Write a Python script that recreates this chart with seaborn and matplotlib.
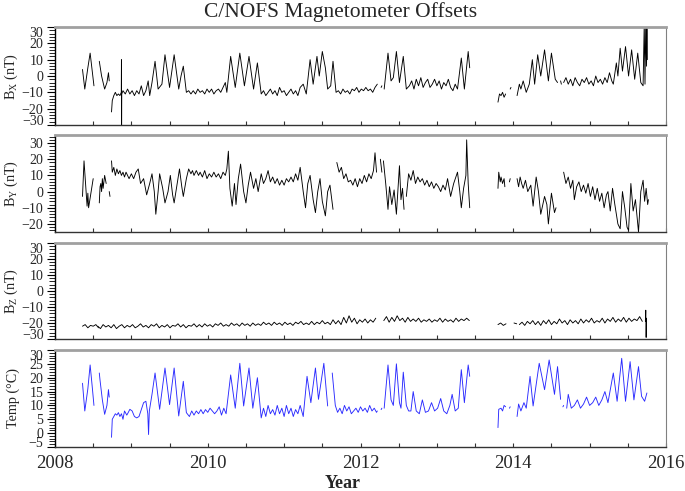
import numpy as np
import pandas as pd
import matplotlib
matplotlib.use("Agg")
import matplotlib.pyplot as plt
import seaborn as sns
from matplotlib.ticker import MultipleLocator, FuncFormatter

# ---------------- data (decimal year, value); None marks a data gap ----------------
bx_time = [2008.36, 2008.39, 2008.43, 2008.46, 2008.49, 2008.51, None,
           2008.58, 2008.61, 2008.65, 2008.68, 2008.70, 2008.71, None,
           2008.74, 2008.75, 2008.77, 2008.79, 2008.81, 2008.83, 2008.85, 2008.868, 2008.870, 2008.872, 2008.874,
           2008.89, 2008.92, 2008.95, 2008.98, 2009.01, 2009.04, 2009.07, 2009.10, 2009.13, 2009.16, 2009.19,
           2009.22, 2009.24, 2009.27, 2009.31, 2009.35, 2009.40, 2009.44, 2009.50, 2009.56, 2009.62, 2009.65,
           2009.68, 2009.72, 2009.75, 2009.78, 2009.81, 2009.84, 2009.87, 2009.90, 2009.93, 2009.96, 2009.99,
           2010.02, 2010.05, 2010.08, 2010.11, 2010.14, 2010.17, 2010.20, 2010.23, 2010.25, 2010.30, 2010.36,
           2010.42, 2010.48, 2010.54, 2010.60, 2010.65, 2010.70, 2010.73, 2010.76, 2010.79, 2010.82, 2010.85,
           2010.88, 2010.91, 2010.94, 2010.97, 2011.00, 2011.03, 2011.06, 2011.09, 2011.12, 2011.15, 2011.18,
           2011.21, 2011.25, 2011.29, 2011.34, 2011.38, 2011.43, 2011.46, 2011.50, 2011.54, 2011.57, 2011.61,
           2011.64, 2011.68, 2011.71, 2011.74, 2011.77, 2011.80, 2011.83, 2011.86, 2011.89, 2011.92, 2011.95,
           2011.98, 2012.01, 2012.04, 2012.07, 2012.10, 2012.13, 2012.16, 2012.19, 2012.22, None,
           2012.27, 2012.28, None,
           2012.31, 2012.36, 2012.40, 2012.43, 2012.47, 2012.51, 2012.56, 2012.60, 2012.64, 2012.67, 2012.70,
           2012.73, 2012.76, 2012.79, 2012.82, 2012.85, 2012.88, 2012.91, 2012.94, 2012.97, 2013.00, 2013.03,
           2013.06, 2013.09, 2013.12, 2013.15, 2013.18, 2013.21, 2013.24, 2013.27, 2013.32, 2013.36, 2013.41,
           2013.43, None,
           2013.80, 2013.82, 2013.84, 2013.86, 2013.88, 2013.90, None,
           2013.96, 2013.97, None,
           2014.05, 2014.08, 2014.10, 2014.13, 2014.17, 2014.21, 2014.25, 2014.28, 2014.32, 2014.36, 2014.41,
           2014.46, 2014.50, 2014.55, 2014.58, None,
           2014.62, 2014.63, None,
           2014.66, 2014.69, 2014.72, 2014.75, 2014.78, 2014.81, 2014.84, 2014.87, 2014.90, 2014.93, 2014.96,
           2014.99, 2015.02, 2015.05, 2015.08, 2015.11, 2015.14, 2015.17, 2015.20, 2015.23, 2015.26, 2015.29,
           2015.31, 2015.35, 2015.37, 2015.40, 2015.43, 2015.47, 2015.51, 2015.55, 2015.59, 2015.63, 2015.67,
           2015.70, 2015.715, 2015.725, 2015.735, 2015.745, 2015.75, 2015.755]
bx_val = [4, -8, 5, 14, 2, -6, None,
          9, 0, -8, -4, 2, -3, None,
          -22, -15, -12, -10, -12, -11, -12, -10, 10, -31, -11,
          -9, -11, -8, -11, -9, -12, -9, -11, -6, -12, -9,
          -3, -12, -4, 9, -8, -5, 13, -7, 13, -8, 0,
          6, -10, -9, -11, -9, -11, -8, -10, -9, -11, -8,
          -10, -8, -11, -9, -8, -10, -7, -4, -10, 12, -7,
          14, -6, 12, -8, 8, -11, -9, -12, -10, -8, -11,
          -9, -12, -7, -10, -9, -12, -10, -8, -11, -9, -12,
          -7, -5, -11, 10, -5, 12, 0, 15, 5, -8, -6,
          9, -10, -9, -11, -8, -10, -9, -11, -8, -9, -7,
          -10, -8, -9, -7, -9, -8, -10, -7, -5, None,
          -7, -6, None,
          -8, 14, -3, -1, 15, -4, 12, -8, -6, -3, -8,
          -2, -6, -1, -7, -4, -2, -7, -5, -2, -6, -3,
          -8, -4, -6, -2, -7, -9, -5, -8, 11, -8, 15,
          5, None,
          -16, -11, -12, -10, -13, -11, None,
          -8, -7, None,
          -12, -5, -8, -3, -10, -5, 10, -5, 13, 0, 16,
          -3, 14, -2, -4, None,
          -3, -5, None,
          -4, -1, -5, -2, -6, -1, -4, -6, -2, -4, -1,
          -5, -3, -6, 0, -4, -2, -5, -1, -4, 2, -3,
          -5, 8, 0, 17, 3, 18, 0, 16, -2, 14, -4,
          -6, 32, -5, 33, 6, 33, 10]

by_time = [2008.36, 2008.38, 2008.40, 2008.42, 2008.43, 2008.44, 2008.46, 2008.48, 2008.50, None,
           2008.58, 2008.59, 2008.60, 2008.61, 2008.62, 2008.63, 2008.65, 2008.67, None,
           2008.71, 2008.72, None,
           2008.74, 2008.75, 2008.77, 2008.79, 2008.81, 2008.83, 2008.85, 2008.87, 2008.89, 2008.91, 2008.93,
           2008.95, 2008.97, 2009.00, 2009.03, 2009.06, 2009.09, 2009.12, 2009.16, 2009.20, 2009.24, 2009.27,
           2009.30, 2009.32, 2009.35, 2009.37, 2009.41, 2009.44, 2009.48, 2009.51, 2009.54, 2009.56, 2009.60,
           2009.63, 2009.66, 2009.68, 2009.72, 2009.75, 2009.78, 2009.80, 2009.82, 2009.85, 2009.88, 2009.90,
           2009.93, 2009.96, 2009.99, 2010.02, 2010.05, 2010.08, 2010.11, 2010.14, 2010.17, 2010.20, 2010.23,
           2010.25, 2010.27, 2010.29, 2010.32, 2010.35, 2010.37, 2010.40, 2010.43, 2010.47, 2010.50, 2010.53,
           2010.56, 2010.60, 2010.63, 2010.66, 2010.70, 2010.73, 2010.76, 2010.79, 2010.82, 2010.85, 2010.88,
           2010.91, 2010.94, 2010.97, 2011.00, 2011.03, 2011.06, 2011.09, 2011.12, 2011.15, 2011.18, 2011.21,
           2011.25, 2011.28, 2011.31, 2011.34, 2011.38, 2011.41, 2011.44, 2011.47, 2011.50, 2011.54, 2011.57,
           2011.60, 2011.64, None,
           2011.69, 2011.72, 2011.75, 2011.78, 2011.81, 2011.84, 2011.87, 2011.90, 2011.93, 2011.96, 2011.99,
           2012.02, 2012.05, 2012.08, 2012.11, 2012.14, 2012.17, 2012.19, 2012.21, None,
           2012.26, 2012.28, None,
           2012.30, 2012.33, 2012.36, 2012.38, 2012.41, 2012.44, 2012.47, 2012.51, 2012.53, 2012.55, 2012.57, None,
           2012.60, 2012.63, 2012.66, 2012.69, 2012.72, 2012.75, 2012.78, 2012.81, 2012.84, 2012.87, 2012.90,
           2012.93, 2012.96, 2012.99, 2013.02, 2013.05, 2013.08, 2013.11, 2013.14, 2013.18, 2013.22, 2013.27,
           2013.30, 2013.32, 2013.35, 2013.38, 2013.39, 2013.41, 2013.43, None,
           2013.80, 2013.81, 2013.83, 2013.84, 2013.86, 2013.88, 2013.89, None,
           2013.95, 2013.96, None,
           2014.05, 2014.07, 2014.09, 2014.11, 2014.13, 2014.16, 2014.19, 2014.23, 2014.26, 2014.30, 2014.33,
           2014.36, 2014.41, 2014.44, 2014.46, 2014.50, 2014.54, 2014.56, None,
           2014.66, 2014.69, 2014.72, 2014.75, 2014.78, 2014.80, 2014.83, 2014.86, 2014.89, 2014.92, 2014.95,
           2014.98, 2015.01, 2015.04, 2015.07, 2015.10, 2015.13, 2015.16, 2015.19, 2015.22, 2015.24, 2015.27,
           2015.30, 2015.33, 2015.37, 2015.40, 2015.43, 2015.46, 2015.49, 2015.51, 2015.54, 2015.57, 2015.60,
           2015.64, 2015.67, 2015.70, 2015.72, 2015.74, 2015.76, 2015.77]
by_val = [-3, 19, 5, -9, -1, -10, -4, 2, 8, None,
          -7, 3, 5, 0, 8, 2, 10, 5, None,
          0, -3, None,
          19, 12, 15, 10, 14, 11, 13, 10, 12, 9, 12,
          10, 8, 11, 8, 12, 14, 5, 8, -2, 5, 11,
          0, -14, 0, 11, 2, -7, 0, 10, -2, -7, 5,
          14, 3, -3, 8, 14, 11, 13, 10, 13, 10, 12,
          9, 13, 8, 11, 9, 12, 9, 11, 8, 12, 10,
          14, 25, 2, -9, 5, -8, 8, 17, 0, -7, 4,
          12, 2, 8, 0, 11, 5, 8, 13, 6, 9, 5,
          8, 4, 7, 4, 8, 6, 9, 6, 11, 7, 15,
          0, -10, 5, 10, -5, -13, 0, 8, -6, -15, 0,
          4, -11, None,
          18, 12, 15, 8, 11, 6, 7, 4, 8, 3, 8,
          5, 10, 6, 11, 8, 13, 24, 12, None,
          20, 12, None,
          19, 5, -11, 3, -8, 1, -14, 16, -5, 2, -11, None,
          -3, 11, 7, 13, 5, 9, 6, 8, 4, 7, 3,
          6, 2, 5, 3, 0, 4, 1, 8, -3, 5, 12,
          0, -10, 2, 10, 32, 5, -10, None,
          2, 12, 6, 9, 5, 8, 3, None,
          6, 8, None,
          8, 3, 9, 5, 2, 7, 0, 4, -9, 9, 0,
          -14, -3, -8, -20, -1, -13, -10, None,
          12, 5, 9, 2, 7, -5, 3, 6, 0, 4, -1,
          5, -3, 3, -5, 2, -6, -1, -10, -2, 0, -12,
          2, -8, -20, -23, 0, -10, -22, -24, 5, -12, -5,
          -25, 0, 7, -6, 2, -8, -5]

# Bz: regularly sampled segments (start year, sample spacing in years, values)
bz_step = 0.035
bz_start = [2008.36, 2008.56, 2013.80, 2014.08]
bz_vals = [
    [-22, -21, -23, -21.5, -22, -21, -23],
    [-22, -23.5, -21, -22.5, -21.5, -23, -21, -23.5, -22, -21,
     -23, -21.5, -22.5, -21, -23, -22, -20.5, -22.5, -21.5, -23,
     -21, -22, -20.5, -23, -21.5, -22.5, -21, -23, -21.5, -22,
     -20.5, -22.5, -21, -23, -21.5, -22, -20.5, -22.5, -21, -22.5,
     -20.5, -22, -21, -22.5, -20.5, -21.5, -20, -22, -21, -22,
     -20, -21.5, -20.5, -22, -20, -21.5, -20.5, -22, -20, -21.5,
     -20.5, -21.5, -19.5, -21, -20, -21.5, -19.5, -21, -20, -21.5,
     -19.5, -21, -20, -21.5, -19.5, -20.5, -19, -21, -20, -21,
     -19, -21, -19.5, -20.5, -18.5, -20.5, -19.5, -21, -18, -20.5,
     -18.5, -21, -16.5, -20, -15.5, -19.5, -17, -20.5, -18, -19.5,
     -17.5, -20, -18, -19.5, -17, None, None, -18.5, -16, -19.5,
     -16.5, -19, -15.5, -18.5, -17, -19.5, -16.5, -19, -17.5, -19,
     -17, -19.5, -18, -19, -17.5, -19.5, -18, -19, -17, -19.5,
     -17.5, -19, -18, -19.5, -17, -19, -17.5, -18.5, -17, -18.5],
    [-21, -20, -21.5, -20.5, None, None, -20, -20.5],
    [-21, -19.5, -21.5, -19, -20.5, -18.5, -21, -19, -21.5, -18.5,
     -20.5, -18, -21, -19, -20.5, -17.5, -20, -18.5, -21, -18,
     -20, -18.5, -20.5, -17.5, -20, -18, -19.5, -17, -20, -18.5,
     -19.5, -17, -20, -17.5, -19, -16.5, -19.5, -17.5, -19, -16.5,
     -19.5, -17, -19, -17.5, -18.5, -16, -19],
]
bz_spike_time = [2015.73, 2015.735, 2015.74, 2015.745]
bz_spike_val = [-19, -12, -29, -17]

temp_time = [2008.36, 2008.39, 2008.43, 2008.46, 2008.49, 2008.51, None,
             2008.58, 2008.59, 2008.62, 2008.65, 2008.68, 2008.70, 2008.71, None,
             2008.74, 2008.75, 2008.77, 2008.79, 2008.81, 2008.83, 2008.85, 2008.87, 2008.89, 2008.91, 2008.94,
             2008.96, 2008.98, 2009.01, 2009.04, 2009.07, 2009.10, 2009.13, 2009.16, 2009.19, 2009.215, 2009.225,
             2009.235, 2009.27, 2009.31, 2009.37, 2009.44, 2009.50, 2009.56, 2009.62, 2009.68, 2009.72, 2009.76,
             2009.79, 2009.82, 2009.85, 2009.88, 2009.91, 2009.94, 2009.97, 2010.00, 2010.03, 2010.06, 2010.09,
             2010.12, 2010.15, 2010.18, 2010.21, 2010.24, 2010.30, 2010.36, 2010.42, 2010.47, 2010.54, 2010.59,
             2010.65, 2010.70, 2010.73, 2010.76, 2010.79, 2010.82, 2010.85, 2010.88, 2010.91, 2010.94, 2010.97,
             2011.00, 2011.03, 2011.06, 2011.09, 2011.12, 2011.15, 2011.18, 2011.21, 2011.25, 2011.30, 2011.35,
             2011.41, 2011.45, 2011.52, 2011.57, None,
             2011.63, 2011.67, 2011.70, 2011.73, 2011.76, 2011.79, 2011.82, 2011.85, 2011.88, 2011.91, 2011.94,
             2011.97, 2012.00, 2012.03, 2012.06, 2012.09, 2012.12, 2012.15, 2012.18, 2012.21, 2012.22, None,
             2012.27, 2012.28, None,
             2012.31, 2012.36, 2012.40, 2012.43, 2012.47, 2012.51, 2012.53, 2012.56, 2012.60, 2012.63, 2012.66,
             2012.69, 2012.73, 2012.77, 2012.81, 2012.85, 2012.89, 2012.93, 2012.97, 2013.01, 2013.05, 2013.09,
             2013.13, 2013.17, 2013.20, 2013.24, 2013.28, 2013.32, 2013.36, 2013.41, 2013.43, None,
             2013.80, 2013.81, 2013.84, 2013.86, 2013.88, 2013.90, None,
             2013.95, 2013.96, None,
             2014.05, 2014.07, 2014.10, 2014.14, 2014.17, 2014.22, 2014.26, 2014.34, 2014.41, 2014.47, 2014.54,
             2014.58, 2014.62, None,
             2014.65, 2014.66, None,
             2014.70, 2014.72, 2014.76, 2014.80, 2014.84, 2014.88, 2014.92, 2014.96, 2015.00, 2015.04, 2015.08,
             2015.12, 2015.16, 2015.20, 2015.24, 2015.31, 2015.36, 2015.42, 2015.47, 2015.53, 2015.58, 2015.64,
             2015.68, 2015.72, 2015.75]
temp_val = [18, 8, 16, 24.6, 16, 10, None,
            21.7, 19, 12, 6.8, 10, 15.7, 13, None,
            -1.5, 5, 6, 7, 6.5, 7.4, 6, 7, 5, 8, 6.5,
            7.5, 8.6, 8, 6, 5.5, 6, 8.5, 11, 11.5, 7, -0.5,
            8, 14, 21.7, 8.6, 23.5, 10.3, 23.5, 6.2, 18.7, 7.4, 6,
            8, 6.5, 8, 7, 8.5, 7, 8.5, 7.5, 9, 8, 7,
            8, 9.5, 6.5, 9, 7, 21, 9, 25.2, 9.8, 23.5, 9,
            20, 5.5, 9, 6, 10, 7, 8.5, 6.5, 10, 7, 9,
            6, 10, 7, 9, 6, 8.5, 7, 10, 6, 20.5, 11,
            23.5, 12.2, 25.2, 9.8, None,
            21.7, 10, 7.5, 9, 7, 10, 8, 9.5, 7, 8, 9,
            7.5, 9.5, 8, 9, 7.5, 10, 8, 9, 7.5, 8, None,
            8.5, 9, None,
            9, 24.6, 12, 10, 25, 11, 9, 22, 10, 8, 8,
            15, 8, 7, 12, 7.5, 8, 11, 8, 9, 12.5, 8,
            7, 10, 14, 8, 9, 22.9, 11, 24.6, 20.5, None,
            2, 8.6, 9, 8, 10, 9.5, None,
            9, 9.5, None,
            6, 10.5, 8, 11, 9, 20.5, 9.8, 25.2, 15.7, 26.4, 14,
            24, 12.2, None,
            9.5, 10, None,
            9, 14, 9, 10, 12, 9, 10.5, 13, 10, 11, 13,
            10, 12, 15, 11, 21.7, 11.5, 27, 11.5, 25.8, 12, 24,
            13.3, 11.5, 14.5]


def to_frame(times, vals):
    rows, seg = [], 0
    for t, v in zip(times, vals):
        if t is None or v is None:
            seg += 1
            continue
        rows.append((t, v, seg))
    return pd.DataFrame(rows, columns=["year", "value", "seg"])


def bz_frame():
    t_all, v_all = [], []
    for s, vals in zip(bz_start, bz_vals):
        for i, v in enumerate(vals):
            t_all.append(s + bz_step * i if v is not None else None)
            v_all.append(v)
        t_all.append(None)
        v_all.append(None)
    t_all += bz_spike_time
    v_all += bz_spike_val
    return to_frame(t_all, v_all)


frames = [to_frame(bx_time, bx_val), to_frame(by_time, by_val), bz_frame(), to_frame(temp_time, temp_val)]
colors = ["black", "black", "black", "#2a2aff"]
ylims = [(-30, 30), (-25, 35), (-30, 30), (-5, 30)]
yticks = [list(range(-30, 31, 10)), list(range(-20, 31, 10)), list(range(-30, 31, 10)), list(range(-5, 31, 5))]
yminor = [2, 2, 2, 1]
ylabels = [r"B$_{\mathregular{X}}$ (nT)", r"B$_{\mathregular{Y}}$ (nT)", r"B$_{\mathregular{Z}}$ (nT)", "Temp (°C)"]
shift_ends = [True, False, True, True]

# ---------------- figure ----------------
sns.set_theme(style="white")
plt.rcParams["font.family"] = ["Liberation Serif", "DejaVu Serif"]
plt.rcParams["mathtext.fontset"] = "custom"
plt.rcParams["mathtext.rm"] = "Liberation Serif"
plt.rcParams["mathtext.it"] = "Liberation Serif:italic"

W, H = 685, 491
fig = plt.figure(figsize=(W / 100, H / 100), dpi=100)
fig.patch.set_facecolor("white")
panels_px = [(27, 125), (135, 232), (243, 339), (350, 447)]
left_px, right_px = 55, 666

axes = []
for i, (top, bot) in enumerate(panels_px):
    ax = fig.add_axes([left_px / W, 1 - bot / H, (right_px - left_px) / W, (bot - top) / H])
    axes.append(ax)
    sns.lineplot(data=frames[i], x="year", y="value", units="seg", estimator=None, sort=False,
                 color=colors[i], lw=0.65, ax=ax, legend=False)
    ax.set_xlim(2008, 2016)
    ax.set_ylim(*ylims[i])
    ax.set_facecolor("white")
    ax.grid(False)
    # spines
    ax.spines["top"].set_color("#a0a0a0")
    ax.spines["top"].set_linewidth(2.0)
    ax.spines["right"].set_color("#808080")
    ax.spines["right"].set_linewidth(0.8)
    ax.spines["left"].set_color("black")
    ax.spines["left"].set_linewidth(1.0)
    ax.spines["bottom"].set_color("#333333")
    ax.spines["bottom"].set_linewidth(1.0)
    # x ticks
    ax.xaxis.set_major_locator(MultipleLocator(0.5))
    ax.tick_params(axis="x", which="major", direction="in", length=3, width=0.8, color="#333333",
                   bottom=True, top=False, labelsize=13.5, pad=6)
    if i == 3:
        ax.xaxis.set_major_formatter(FuncFormatter(
            lambda x, p: f"{int(round(x))}" if abs(x - round(x)) < 1e-6 and int(round(x)) % 2 == 0 else ""))
    else:
        ax.set_xticklabels([])
    ax.set_xlabel("")
    # y ticks
    ax.set_yticks(yticks[i])
    ax.yaxis.set_minor_locator(MultipleLocator(yminor[i]))
    ax.tick_params(axis="y", which="major", direction="out", length=5.8, width=0.8, color="black",
                   left=True, labelsize=10, pad=2.5)
    ax.tick_params(axis="y", which="minor", direction="out", length=4, width=0.6, color="black", left=True)
    ax.set_ylabel(ylabels[i], fontsize=10.2)
    ax.yaxis.set_label_coords(-0.058, 0.5)
    if shift_ends[i]:
        labs = ax.get_yticklabels()
        labs[0].set_va("baseline")
        labs[-1].set_va("top")

fig.text(0.497, 1 - 12 / H, "C/NOFS Magnetometer Offsets", ha="center", va="center", fontsize=15.5)
fig.text(343 / W, 1 - 484 / H, "Year", ha="center", va="center", fontsize=13, fontweight="bold")

fig.savefig("out.png", dpi=100, facecolor="white")
